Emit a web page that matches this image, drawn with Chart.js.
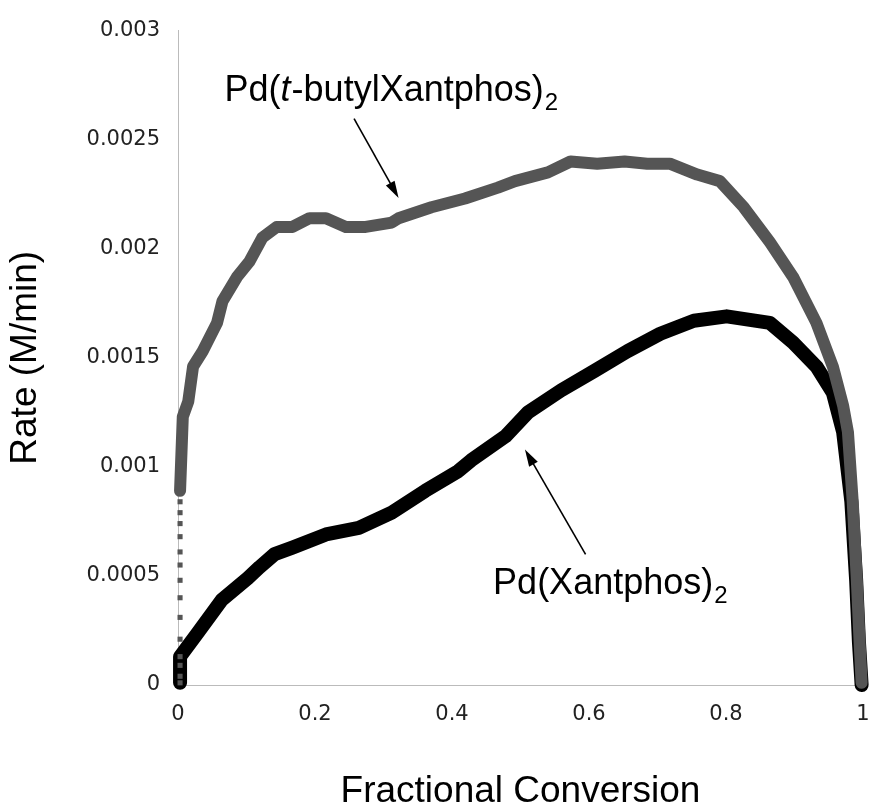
<!DOCTYPE html>
<html>
<head>
<meta charset="utf-8">
<script src="https://cdn.jsdelivr.net/npm/chart.js@4.4.1/dist/chart.umd.min.js"></script>
<style>
  html, body { margin: 0; padding: 0; background: #fff; }
  canvas { display: block; }
</style>
</head>
<body>
<canvas id="rateChart" width="871" height="808"></canvas>
<script>
// tick values and labels
const xTickValues = [0, 0.2, 0.4, 0.6, 0.8, 1];
const xTickLabels = ['0', '0.2', '0.4', '0.6', '0.8', '1'];
const yTickValues = [0, 0.0005, 0.001, 0.0015, 0.002, 0.0025, 0.003];
const yTickLabels = ['0', '0.0005', '0.001', '0.0015', '0.002', '0.0025', '0.003'];

// Pd(t-butylXantphos)2 - grey curve
const tButylConversion = [0.003, 0.007, 0.015, 0.022, 0.036, 0.057, 0.065, 0.086, 0.104, 0.123,
  0.144, 0.167, 0.192, 0.216, 0.245, 0.274, 0.312, 0.322, 0.370, 0.419,
  0.467, 0.492, 0.540, 0.573, 0.612, 0.652, 0.685, 0.718, 0.758, 0.791,
  0.826, 0.864, 0.898, 0.932, 0.956, 0.971, 0.978, 0.985, 0.991, 0.995, 0.998];
const tButylRate = [0.00089, 0.00123, 0.00130, 0.00146, 0.00153, 0.00166, 0.00176, 0.00187, 0.00194, 0.00205,
  0.00210, 0.00210, 0.00214, 0.00214, 0.00210, 0.00210, 0.00212, 0.00214, 0.00219, 0.00223,
  0.00228, 0.00231, 0.00235, 0.00240, 0.00239, 0.00240, 0.00239, 0.00239, 0.00234, 0.00231,
  0.00219, 0.00203, 0.00187, 0.00166, 0.00146, 0.00128, 0.00116, 0.00084, 0.00048, 0.00020, 0.00001];

// sparse early points of the grey curve (vertical dotted run at x ~ 0)
const tButylStartConversion = [0.003, 0.003, 0.003, 0.003, 0.003, 0.003, 0.003,
  0.003, 0.003, 0.003, 0.003, 0.003, 0.003, 0.003];
const tButylStartRate = [0.00001, 0.00004, 0.00009, 0.00013, 0.00021, 0.00031, 0.00040,
  0.00048, 0.00055, 0.00061, 0.00068, 0.00074, 0.00079, 0.00084];

// Pd(Xantphos)2 - black curve
const xantConversion = [0.003, 0.003, 0.029, 0.064, 0.102, 0.119, 0.141, 0.167, 0.216, 0.264,
  0.312, 0.361, 0.409, 0.428, 0.478, 0.511, 0.559, 0.608, 0.656, 0.704,
  0.753, 0.801, 0.864, 0.898, 0.932, 0.956, 0.971, 0.983, 0.990, 0.994, 0.998];
const xantRate = [0.00001, 0.00013, 0.00024, 0.00039, 0.00049, 0.00054, 0.00060, 0.00063, 0.00069, 0.00072,
  0.00079, 0.00089, 0.00098, 0.00103, 0.00114, 0.00125, 0.00135, 0.00144, 0.00153, 0.00161,
  0.00167, 0.00169, 0.00166, 0.00157, 0.00146, 0.00134, 0.00116, 0.00084, 0.00048, 0.00020, 0.00000];

function toPoints(xs, ys) {
  return xs.map((v, i) => ({ x: v, y: ys[i] }));
}

// draws text made of parts (normal / italic / subscript)
function drawLabel(ctx, x, y, parts) {
  ctx.textBaseline = 'alphabetic';
  ctx.textAlign = 'left';
  let cx = x;
  parts.forEach(p => {
    if (p.sub) {
      ctx.font = '24px "Liberation Sans", Arial, sans-serif';
      ctx.fillText(p.text, cx + 1, y + 9);
    } else {
      ctx.font = (p.italic ? 'italic ' : '') + '36px "Liberation Sans", Arial, sans-serif';
      ctx.fillText(p.text, cx, y);
    }
    cx += ctx.measureText(p.text).width + (p.italic ? 1 : 0);
  });
}

function drawArrow(ctx, x1, y1, x2, y2) {
  const ang = Math.atan2(y2 - y1, x2 - x1);
  const len = 17, half = 5;
  ctx.lineWidth = 1.6;
  ctx.beginPath();
  ctx.moveTo(x1, y1);
  ctx.lineTo(x2 - Math.cos(ang) * len * 0.8, y2 - Math.sin(ang) * len * 0.8);
  ctx.stroke();
  ctx.beginPath();
  ctx.moveTo(x2, y2);
  ctx.lineTo(x2 - Math.cos(ang) * len - Math.sin(ang) * half, y2 - Math.sin(ang) * len + Math.cos(ang) * half);
  ctx.lineTo(x2 - Math.cos(ang) * len + Math.sin(ang) * half, y2 - Math.sin(ang) * len - Math.cos(ang) * half);
  ctx.closePath();
  ctx.fill();
}

const labelPlugin = {
  id: 'curveLabels',
  afterDatasetsDraw(chart) {
    const { ctx, scales: { x, y } } = chart;
    ctx.save();
    ctx.fillStyle = '#000';
    ctx.strokeStyle = '#000';
    drawLabel(ctx, x.getPixelForValue(0.068), y.getPixelForValue(0.002678), [
      { text: 'Pd(' }, { text: 't', italic: true }, { text: '-butylXantphos)' }, { text: '2', sub: true }
    ]);
    drawArrow(ctx, x.getPixelForValue(0.257), y.getPixelForValue(0.002596),
      x.getPixelForValue(0.322), y.getPixelForValue(0.002233));
    drawLabel(ctx, x.getPixelForValue(0.46), y.getPixelForValue(0.000418), [
      { text: 'Pd(Xantphos)' }, { text: '2', sub: true }
    ]);
    drawArrow(ctx, x.getPixelForValue(0.595), y.getPixelForValue(0.000599),
      x.getPixelForValue(0.5065), y.getPixelForValue(0.00108));
    ctx.restore();
  }
};

const tickFont = { family: '"DejaVu Sans", Verdana, sans-serif', size: 21 };

const ctx = document.getElementById('rateChart').getContext('2d');
const chart = new Chart(ctx, {
  type: 'scatter',
  data: {
    datasets: [
      {
        label: 'Pd(t-butylXantphos)2',
        data: toPoints(tButylConversion, tButylRate),
        showLine: true,
        borderColor: '#555555',
        borderWidth: 12,
        borderJoinStyle: 'round',
        borderCapStyle: 'round',
        pointRadius: 0,
        clip: false
      },
      {
        label: 'Pd(t-butylXantphos)2 start',
        data: toPoints(tButylStartConversion, tButylStartRate),
        showLine: false,
        pointStyle: 'rect',
        pointRadius: 3.6,
        backgroundColor: '#555555',
        borderColor: '#555555',
        borderWidth: 0,
        clip: false
      },
      {
        label: 'Pd(Xantphos)2',
        data: toPoints(xantConversion, xantRate),
        showLine: true,
        borderColor: '#000000',
        borderWidth: 14,
        borderJoinStyle: 'round',
        borderCapStyle: 'round',
        pointRadius: 0,
        clip: false
      }
    ]
  },
  options: {
    responsive: false,
    animation: false,
    devicePixelRatio: 1,
    layout: { padding: { top: 24, right: 4, left: 0, bottom: 0 } },
    plugins: {
      legend: { display: false },
      tooltip: { enabled: false }
    },
    scales: {
      x: {
        type: 'linear',
        min: 0,
        max: 1,
        afterBuildTicks: scale => { scale.ticks = xTickValues.map(v => ({ value: v })); },
        afterFit: scale => {
          scale.height = 123;
          // keep the last tick label from pulling the plot edge in too far
          scale.paddingRight = 8;
        },
        ticks: {
          callback: (v) => xTickLabels[xTickValues.indexOf(v)],
          font: tickFont,
          color: '#222',
          padding: 17,
          maxRotation: 0
        },
        grid: { display: false, drawTicks: false },
        border: { display: true, color: '#bbbbbb', width: 1, dash: [1, 5] },
        title: {
          display: true,
          text: 'Fractional Conversion',
          font: { family: '"Liberation Sans", Arial, sans-serif', size: 37, lineHeight: 0.86 },
          color: '#000',
          padding: { top: 0, bottom: 0 }
        }
      },
      y: {
        type: 'linear',
        min: 0,
        max: 0.003,
        afterBuildTicks: scale => { scale.ticks = yTickValues.map(v => ({ value: v })); },
        afterFit: scale => { scale.width = 178; },
        ticks: {
          callback: (v) => yTickLabels[yTickValues.indexOf(v)],
          font: tickFont,
          color: '#222',
          padding: 18
        },
        grid: { display: false, drawTicks: false },
        border: { display: true, color: '#bbbbbb', width: 1, dash: [1, 5] },
        title: {
          display: true,
          text: 'Rate (M/min)',
          font: { family: '"Liberation Sans", Arial, sans-serif', size: 37, lineHeight: 1 },
          color: '#000',
          padding: { top: 7.5, bottom: 0 }
        }
      }
    }
  },
  plugins: [labelPlugin]
});
</script>
</body>
</html>
